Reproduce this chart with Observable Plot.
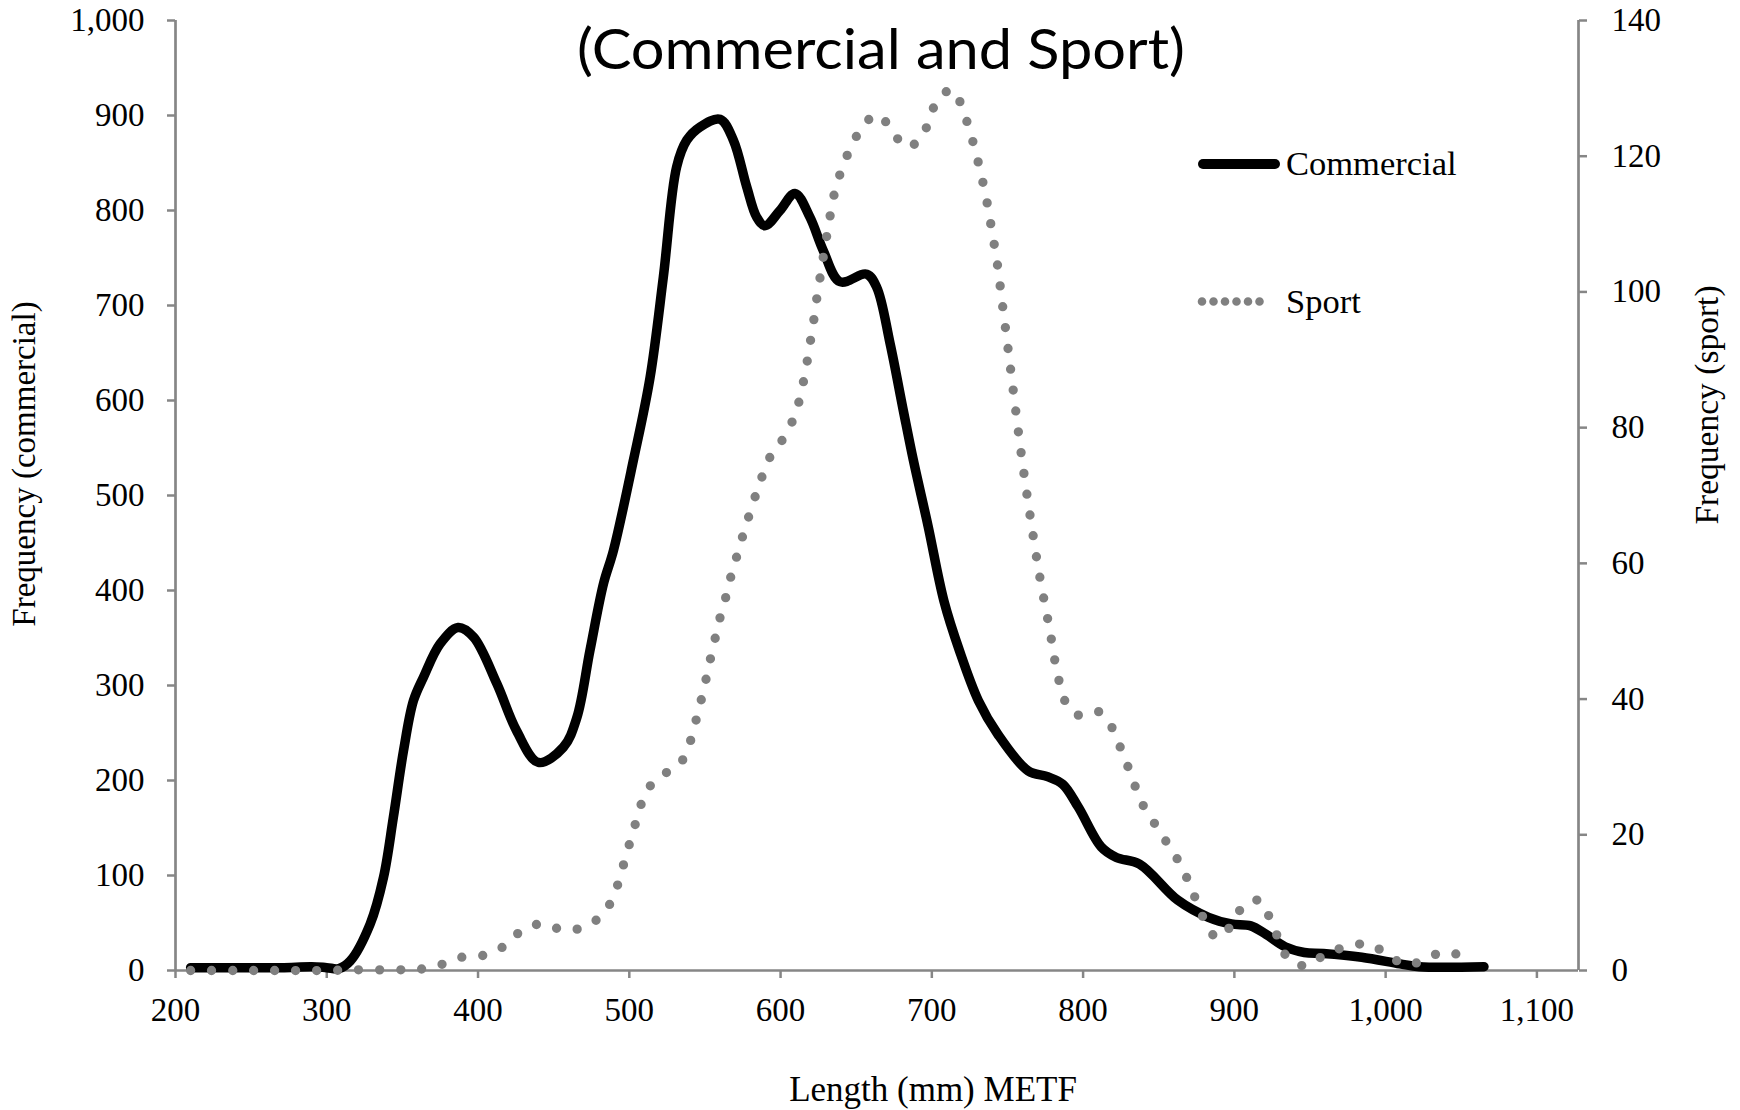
<!DOCTYPE html>
<html><head><meta charset="utf-8">
<script src="https://cdn.jsdelivr.net/npm/d3@7"></script>
<script src="https://cdn.jsdelivr.net/npm/@observablehq/plot@0.6"></script>
<style>
html,body{margin:0;padding:0;background:#fff;}
#chart{position:relative;width:1740px;height:1110px;overflow:hidden;background:#fff;}
#chart svg{position:absolute;left:0;top:0;}
</style></head><body><div id="chart"></div>
<script>
// ---- data ----
const commercialLength = [210,240,270,290,300,308,315.5,328.7,337.5,344,350.7,357.3,364,375,386.8,397,412.4,425.6,439.9,456.4,465.3,474,482.9,489.5,502.7,513.7,522.5,531.3,538,546.8,560,568.8,577.6,584.2,589.7,599.6,609.5,619.4,628.2,639.3,657,663.6,672.4,681.2,687.8,697.5,708,718.2,730.8,743.5,763.8,776.5,786.6,796.8,812,822,837.3,862.6,882.9,898,910.8,921,933.5,946.2,958.9,984.2,1009.5,1022.2,1065];
const commercialFreq = [3,3,3,4,3,2,10,49,98,161,231,284,309,344,361,351,302,252,219,235,266,337,407,442,537,624,730,846,874,888,896,874,825,793,784,800,818,793,758,725,733,719,660,589,537,468,389,337,284,249,210,204,196,172,130,119,112,74,56,49,47,38,25,19,18,14,7,4,4];

const sportLength = [210,240,270,300,318,345,362,376,390,405,418,429,443,457,471,483,490,494.4,498.3,502.3,506.3,510.9,520.4,532.9,539.3,543.3,546.8,550.1,553,556.3,559.4,563.2,566.6,570.6,577,585,593.1,601.2,608.1,612.5,615.5,618,620.2,622.4,624.3,626.6,628.7,631,633.4,636.2,640.5,646,653,663.2,673.5,681.9,692.7,698.2,703.9,713.4,720.4,724.6,728.6,731.9,735,737.7,740,742.3,744.3,746,747.8,751.3,754.8,758.3,762,766,770,773,776,778.5,780.8,783.6,787.2,795,809.7,818.8,824.4,829.7,834.5,840,847.7,855.5,863.1,869.5,874.8,880.3,888.7,898.8,906.2,917.3,923.9,929.5,936.1,948.2,960.7,974.8,989.5,1002.2,1015.4,1029,1043.2,1056.1];
const sportFreq = [0,0,0,0,0.1,0.1,0.2,0.9,2.0,2.3,3.7,5.9,6.9,5.9,6.5,8.4,11.2,14.2,17.3,20.3,23.3,26.3,28.6,30.3,33.1,36.2,39.2,42.3,45.3,48.5,51.5,54.5,57.6,60.7,65.5,71,75.7,78.2,81.1,84.1,87.2,90.3,93.4,96.5,99.6,102.8,105.8,108.9,112,115.1,118.1,121.1,123.9,126.1,124,121.4,122.5,125.4,128.3,129.8,127,124,121,117.9,114.9,111.7,108.6,105.6,102.5,99.3,96.2,90,83.7,77.5,71.5,65.5,59.8,56,52.5,49.5,46.3,43.2,40.1,37.7,38.2,35.9,33,30,27.1,24.2,21.5,18.8,16.1,13.2,10.3,7.4,4.8,6.9,9.6,10.3,7.4,4.5,1.6,0.7,2.5,3.5,3.9,2.1,0.8,2.1,2.7,1.0];

const xTicks = [200,300,400,500,600,700,800,900,1000,1100];
const leftTicks = [0,100,200,300,400,500,600,700,800,900,1000];
const rightTicks = [0,20,40,60,80,100,120,140];

const subtitle = "(Commercial and Sport)";
const xLabel = "Length (mm) METF";
const yLeftLabel = "Frequency (commercial)";
const yRightLabel = "Frequency (sport)";
const seriesNames = ["Commercial", "Sport"];

// ---- layout ----
const W = 1740, H = 1110;
const margins = {marginLeft: 175, marginRight: 162, marginTop: 20, marginBottom: 140};
const xDomain = [200, 1127.5];
const axisColor = "#868686";
const sportColor = "#808080";
const serif = '"Liberation Serif","Times New Roman",serif';
const fmt = d3.format(",");

const commercial = commercialLength.map((x, i) => ({x, y: commercialFreq[i]}));
const sport = sportLength.map((x, i) => ({x, y: sportFreq[i]}));

const p1 = Plot.plot({
  width: W, height: H, ...margins,
  x: {domain: xDomain},
  y: {domain: [0, 1000]},
  style: {fontFamily: serif, fontSize: "33px", background: "transparent", color: "black"},
  marks: [
    Plot.axisX({ticks: xTicks, tickFormat: fmt, tickSize: 8, tickPadding: 19, stroke: axisColor, strokeWidth: 2.5, fill: "black", label: null, fontSize: 33}),
    Plot.axisY({ticks: leftTicks, tickFormat: fmt, tickSize: 8, tickPadding: 23, stroke: axisColor, strokeWidth: 2.5, fill: "black", label: null, fontSize: 33}),
    Plot.ruleX([xDomain[0], xDomain[1]], {stroke: axisColor, strokeWidth: 2.7}),
    Plot.ruleY([0], {stroke: axisColor, strokeWidth: 2.7}),
    Plot.line(commercial, {x: "x", y: "y", curve: "catmull-rom", stroke: "black", strokeWidth: 9.5, strokeLinecap: "round", strokeLinejoin: "round"})
  ]
});

const p2 = Plot.plot({
  width: W, height: H, ...margins,
  x: {domain: xDomain, axis: null},
  y: {domain: [0, 140]},
  style: {fontFamily: serif, fontSize: "33px", background: "transparent", color: "black"},
  marks: [
    Plot.axisY({anchor: "right", ticks: rightTicks, tickFormat: fmt, tickSize: 8, tickPadding: 25, stroke: axisColor, strokeWidth: 2.5, fill: "black", label: null, fontSize: 33}),
    Plot.line(sport, {x: "x", y: "y", curve: "catmull-rom", stroke: sportColor, strokeWidth: 9.3, strokeLinecap: "round", strokeDasharray: "0 21"})
  ]
});

const chart = document.getElementById("chart");
chart.appendChild(p1);
chart.appendChild(p2);

// ---- titles, axis labels, legend ----
const s = d3.select(p2).append("g").attr("class", "annotations");
function txt(t, x, y, o = {}) {
  const e = s.append("text").attr("x", x).attr("y", y).text(t)
    .attr("font-family", o.family || serif).attr("font-size", o.size || 33)
    .attr("text-anchor", o.anchor || "start").attr("fill", "black");
  if (o.rotate) e.attr("transform", `rotate(${o.rotate},${x},${y})`);
  if (o.len) e.attr("textLength", o.len).attr("lengthAdjust", "spacingAndGlyphs");
  return e;
}
txt(subtitle, 881, 69, {family: "Lato, 'Open Sans', sans-serif", size: 56, anchor: "middle", len: 608});
txt(xLabel, 933, 1101, {anchor: "middle", size: 35});
txt(yLeftLabel, 35, 464, {anchor: "middle", rotate: -90});
txt(yRightLabel, 1718, 405, {anchor: "middle", rotate: -90, size: 33.5});

// legend
s.append("line").attr("x1", 1203).attr("x2", 1275).attr("y1", 164).attr("y2", 164)
  .attr("stroke", "black").attr("stroke-width", 10).attr("stroke-linecap", "round");
txt(seriesNames[0], 1286, 175, {size: 34.5});
s.append("line").attr("x1", 1202).attr("x2", 1271).attr("y1", 301.5).attr("y2", 301.5)
  .attr("stroke", sportColor).attr("stroke-width", 8.6).attr("stroke-linecap", "round").attr("stroke-dasharray", "0 11.5");
txt(seriesNames[1], 1286, 313, {size: 34.5});
</script>
</body></html>
